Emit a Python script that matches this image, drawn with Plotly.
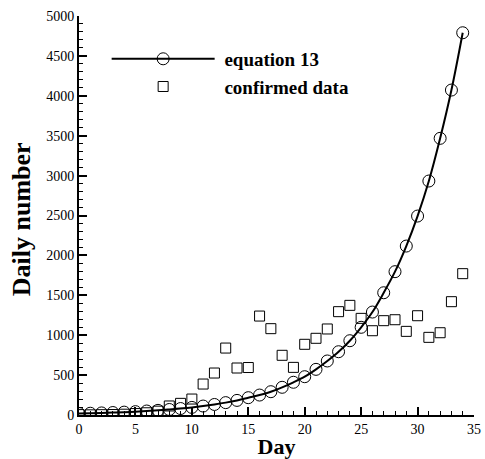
import plotly.graph_objects as go

days = list(range(35))
equation13 = [19, 22, 26, 31, 36, 42, 50, 58, 69, 81, 95, 112, 132, 155, 183,
              217, 250, 292, 347, 410, 480, 572, 677, 793, 931, 1099, 1290,
              1532, 1796, 2117, 2493, 2932, 3467, 4072, 4790]
confirmed = [5, 2, 4, 6, 10, 18, 28, 48, 113, 146, 200, 388, 526, 839, 589,
             595, 1240, 1082, 748, 597, 886, 961, 1078, 1295, 1374, 1211, 1056,
             1182, 1194, 1048, 1244, 973, 1031, 1420, 1771]

serif = "Liberation Serif, Times New Roman, serif"

fig = go.Figure()
fig.add_trace(go.Scatter(
    x=days, y=equation13, mode="lines+markers", name="&nbsp;<b>equation 13</b>",
    line=dict(color="black", width=2, shape="spline"),
    marker=dict(symbol="circle-open", size=12, color="black", line=dict(width=1, color="black")),
))
fig.add_trace(go.Scatter(
    x=days, y=confirmed, mode="markers", name="&nbsp;<b>confirmed data</b>",
    marker=dict(symbol="square-open", size=10, color="black", line=dict(width=1, color="black")),
))

axis_common = dict(
    showline=True, linecolor="black", linewidth=2, mirror=False,
    ticks="inside", ticklen=8, tickwidth=1.5, tickcolor="black",
    showgrid=False, zeroline=False,
    tickfont=dict(family=serif, size=14, color="black"),
    ticklabeloverflow="allow",
)

fig.update_layout(
    width=485, height=459,
    margin=dict(l=79, r=4, t=16, b=44),
    paper_bgcolor="white", plot_bgcolor="white",
    xaxis=dict(range=[0, 35], dtick=5, tick0=0,
               minor=dict(dtick=1, ticks="inside", ticklen=4, tickcolor="black", tickwidth=1),
               title=dict(text="<b>Day</b>", font=dict(family=serif, size=22, color="black"), standoff=3),
               **axis_common),
    yaxis=dict(range=[0, 5000], dtick=500, tick0=0,
               minor=dict(dtick=100, ticks="inside", ticklen=4, tickcolor="black", tickwidth=1),
               **axis_common),
    annotations=[dict(
        text="<b>Daily number</b>", textangle=-90, showarrow=False,
        xref="paper", yref="paper", x=-0.145, y=0.49,
        xanchor="center", yanchor="middle",
        font=dict(family=serif, size=26, color="black"),
    )],
    legend=dict(x=0.07, y=0.94, xanchor="left", yanchor="top",
                bgcolor="rgba(0,0,0,0)", itemwidth=103,
                font=dict(family=serif, size=19, color="black"),
                tracegroupgap=0),
    showlegend=True,
)

fig.write_html("out.html", config={"displayModeBar": False},
               post_script="document.body.style.margin='0';")
